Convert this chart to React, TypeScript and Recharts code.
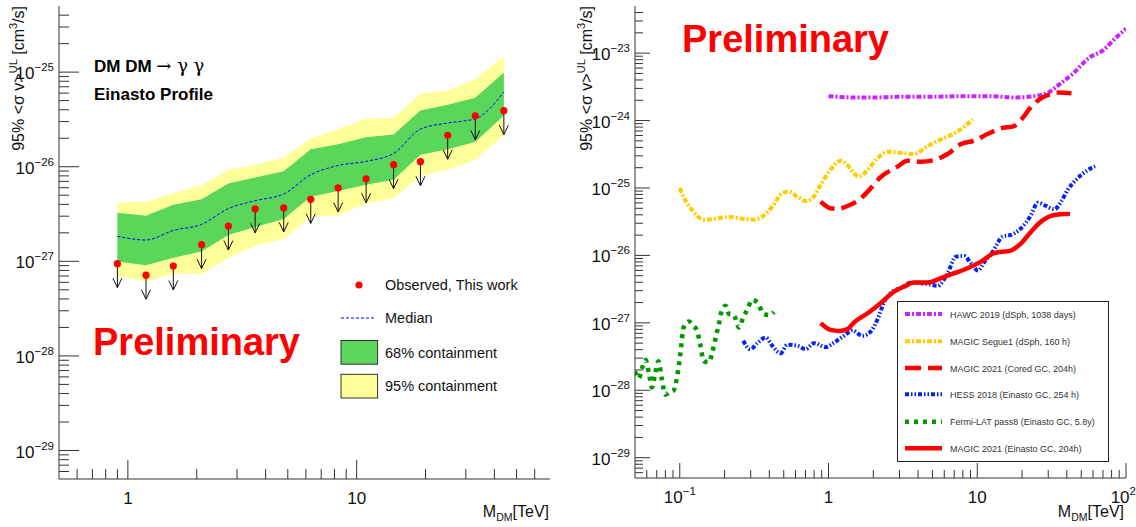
import React from 'react';
import { ComposedChart, Line, Area, Scatter, XAxis, YAxis } from 'recharts';

// ---------- Left panel data ----------
const leftMass = [0.9, 1.2, 1.58, 2.1, 2.75, 3.6, 4.8, 6.3, 8.3, 11, 14.5, 19, 25, 33, 44];
const leftObserved = [9.45e-28, 7.14e-28, 8.92e-28, 1.5e-27, 2.36e-27, 3.58e-27, 3.67e-27, 4.52e-27, 5.97e-27, 7.46e-27, 1.05e-26, 1.13e-26, 2.15e-26, 3.45e-26, 3.91e-26];
const leftMedian = [1.84e-27, 1.68e-27, 2.12e-27, 2.46e-27, 3.61e-27, 4.37e-27, 5.15e-27, 8.22e-27, 1.03e-26, 1.14e-26, 1.38e-26, 2.5e-26, 2.9e-26, 3.21e-26, 6.19e-26];
const left68Low = [9.93e-28, 9.07e-28, 1.09e-27, 1.27e-27, 1.9e-27, 2.3e-27, 2.81e-27, 4.82e-27, 5.55e-27, 6.43e-27, 7.28e-27, 1.34e-26, 1.53e-26, 1.83e-26, 3.48e-26];
const left68High = [3.27e-27, 3.04e-27, 3.96e-27, 4.52e-27, 6.64e-27, 7.7e-27, 8.94e-27, 1.53e-26, 1.73e-26, 2.05e-26, 2.19e-26, 3.94e-26, 4.52e-26, 5.37e-26, 9.89e-26];
const left95Low = [6.97e-28, 6.15e-28, 7.38e-28, 7.38e-28, 1.09e-27, 1.46e-27, 1.72e-27, 2.94e-27, 3.07e-27, 4.09e-27, 4.63e-27, 8.03e-27, 9.31e-27, 1.19e-26, 2.15e-26];
const left95High = [4.22e-27, 4.22e-27, 5.23e-27, 6.37e-27, 9.31e-27, 1.05e-26, 1.25e-26, 1.99e-26, 2.5e-26, 3.21e-26, 3.28e-26, 5.94e-26, 6.39e-26, 8.39e-26, 1.47e-25];

// ---------- Right panel data ----------
const hawcMass = [1, 1.5, 2, 3, 5, 8, 12, 18, 24, 30, 36, 45, 56, 70, 85, 100];
const hawcVal = [2.3e-24, 2.2e-24, 2.2e-24, 2.25e-24, 2.25e-24, 2.3e-24, 2.3e-24, 2.2e-24, 2.3e-24, 2.6e-24, 3.5e-24, 5.2e-24, 8.4e-24, 1.1e-23, 1.67e-23, 2.3e-23];

const segueMass = [0.1, 0.106, 0.121, 0.134, 0.149, 0.169, 0.214, 0.263, 0.315, 0.359, 0.419, 0.489, 0.542, 0.617, 0.702, 0.779, 0.886, 1.03, 1.21, 1.34, 1.45, 1.6, 1.83, 2.13, 2.49, 3.06, 3.76, 4.63, 5.7, 7.0, 8.17, 9.3];
const segueVal = [1.0e-25, 7.4e-26, 4.72e-26, 3.68e-26, 3.36e-26, 3.48e-26, 3.72e-26, 3.51e-26, 3.39e-26, 3.76e-26, 5.29e-26, 8.34e-26, 8.8e-26, 7.43e-26, 6.41e-26, 7.03e-26, 1.11e-25, 1.85e-25, 2.54e-25, 2.19e-25, 1.75e-25, 1.48e-25, 1.85e-25, 2.75e-25, 3.45e-25, 3.33e-25, 3.19e-25, 4.19e-25, 5.26e-25, 6.45e-25, 8.09e-25, 1.04e-24];

const coredMass = [0.886, 1.03, 1.15, 1.34, 1.65, 1.92, 2.2, 2.91, 3.4, 4.17, 5.13, 6.32, 7.78, 9.55, 11.7, 14.4, 17.7, 19.7, 23.0, 26.8, 31.3, 34.8, 43];
const coredVal = [6.27e-26, 5.0e-26, 4.89e-26, 5.41e-26, 7.03e-26, 9.9e-26, 1.4e-25, 2.07e-25, 2.54e-25, 2.45e-25, 2.6e-25, 3.19e-25, 4.49e-25, 5.02e-25, 6.31e-25, 7.65e-25, 8.3e-25, 1.02e-24, 1.6e-24, 2.13e-24, 2.47e-24, 2.6e-24, 2.55e-24];

const hessMass = [0.267, 0.299, 0.332, 0.378, 0.419, 0.477, 0.528, 0.617, 0.702, 0.8, 0.957, 1.09, 1.27, 1.45, 1.69, 1.92, 2.13, 2.36, 2.62, 3.06, 3.58, 4.63, 5.41, 6.32, 7.19, 8.17, 9.06, 10.1, 11.2, 12.7, 14.8, 16.8, 19.7, 23.0, 25.5, 29.0, 33.0, 36.6, 40.5, 47.3, 55.4, 62];
const hessVal = [5.41e-28, 4.07e-28, 5.0e-28, 6.05e-28, 4.56e-28, 3.55e-28, 4.72e-28, 4.56e-28, 4.07e-28, 5.0e-28, 4.37e-28, 5.1e-28, 6.41e-28, 7.69e-28, 6.41e-28, 7.43e-28, 1.11e-27, 2.0e-27, 2.8e-27, 3.27e-27, 3.95e-27, 3.78e-27, 3.54e-27, 5.45e-27, 9.6e-27, 9.8e-27, 7.66e-27, 5.96e-27, 8.09e-27, 1.14e-26, 1.9e-26, 2.01e-26, 2.53e-26, 3.98e-26, 6.05e-26, 5.41e-26, 4.83e-26, 6.27e-26, 9.33e-26, 1.39e-25, 1.85e-25, 2.1e-25];

const fermiMass = [0.05, 0.053, 0.056, 0.059, 0.062, 0.065, 0.068, 0.072, 0.076, 0.08, 0.086, 0.091, 0.096, 0.101, 0.106, 0.115, 0.124, 0.131, 0.138, 0.145, 0.157, 0.165, 0.174, 0.183, 0.193, 0.204, 0.214, 0.231, 0.25, 0.267, 0.285, 0.308, 0.332, 0.368, 0.4, 0.43];
const fermiVal = [1.9e-28, 1.5e-28, 2.2e-28, 2.8e-28, 1.8e-28, 1.1e-28, 1.7e-28, 2.7e-28, 1.4e-28, 8.6e-29, 9.5e-29, 1.0e-28, 1.6e-28, 3.5e-28, 8.5e-28, 1.05e-27, 9.0e-28, 7.5e-28, 4.5e-28, 2.7e-28, 2.6e-28, 3.6e-28, 5.9e-28, 9.5e-28, 1.6e-27, 1.8e-27, 1.35e-27, 1.3e-27, 8.5e-28, 1.2e-27, 1.6e-27, 2.2e-27, 2.0e-27, 1.35e-27, 1.3e-27, 1.45e-27];

const einastoMass = [0.886, 1.03, 1.18, 1.34, 1.48, 1.83, 2.24, 2.76, 3.22, 3.76, 4.63, 5.7, 7.0, 8.6, 10.6, 13.0, 16.8, 19.7, 23.0, 26.8, 33.0, 39.4, 42];
const einastoVal = [9.9e-28, 7.87e-28, 7.6e-28, 8.05e-28, 1.01e-27, 1.39e-27, 1.96e-27, 2.91e-27, 3.45e-27, 3.95e-27, 3.95e-27, 4.59e-27, 5.45e-27, 6.45e-27, 8.09e-27, 1.08e-26, 1.18e-26, 1.51e-26, 2.25e-26, 3.17e-26, 3.98e-26, 4.12e-26, 4.1e-26];

const rightLegendLabels = [
  'HAWC 2019 (dSph, 1038 days)',
  'MAGIC Segue1 (dSph, 160 h)',
  'MAGIC 2021 (Cored GC, 204h)',
  'HESS 2018 (Einasto GC, 254 h)',
  'Fermi-LAT pass8 (Einasto GC, 5.8y)',
  'MAGIC 2021 (Einasto GC, 204h)',
];
const leftLegendLabels = ['Observed, This work', 'Median', '68% containment', '95% containment'];

// ---------- helpers ----------
const FONT = "'Liberation Sans', Arial, Helvetica, sans-serif";

function logTicks(minExp: number, maxExp: number, lo: number, hi: number): number[] {
  const out: number[] = [];
  for (let e = minExp; e <= maxExp; e++) {
    for (let k = 1; k <= 9; k++) {
      const v = parseFloat((k * Math.pow(10, e)).toPrecision(6));
      if (v >= lo * 0.9999 && v <= hi * 1.0001) out.push(v);
    }
  }
  return out;
}
const isDecade = (v: number) => {
  const l = Math.log10(v);
  return Math.abs(l - Math.round(l)) < 1e-6;
};
const expText = (e: number) => (e < 0 ? '\u2212' + Math.abs(e) : String(e));

const leftXTicks = logTicks(-1, 1, 0.55, 65);
const leftYTicks = logTicks(-30, -25, 5.5e-30, 4.5e-25);
const rightXTicks = logTicks(-2, 2, 0.055, 100);
const rightYTicks = logTicks(-30, -23, 5.5e-30, 4.5e-23);

const leftData = leftMass.map((m, i) => ({
  m,
  obs: leftObserved[i],
  med: leftMedian[i],
  lo68: left68Low[i],
  hi68: left68High[i],
  lo95: left95Low[i],
  hi95: left95High[i],
}));
const pairs = (ms: number[], vs: number[]) => ms.map((m, i) => ({ m, y: vs[i] }));

function makeYTick(side: 'left' | 'right', majorLen: number, minorLen: number, labels: boolean, size: number) {
  return (props: any) => {
    const { x, y, payload } = props;
    const v = payload.value;
    const major = isDecade(v);
    const len = major ? majorLen : minorLen;
    const dir = side === 'left' ? 1 : -1;
    const e = Math.round(Math.log10(v));
    return (
      <g>
        <line x1={x} x2={x + dir * len} y1={y} y2={y} stroke="#333" strokeWidth={1} />
        {labels && major && (
          <text x={x - 5} y={y + 7} textAnchor="end" fontSize={size} fill="#111" fontFamily={FONT}>
            10<tspan dy={-8} fontSize={size * 0.68}>{expText(e)}</tspan>
          </text>
        )}
      </g>
    );
  };
}

function makeXTick(side: 'bottom' | 'top', majorLen: number, minorLen: number, labels: boolean, size: number, sciEnds: boolean, rightEdge?: number) {
  return (props: any) => {
    const { x, y, payload } = props;
    const v = payload.value;
    const major = isDecade(v);
    const len = major ? majorLen : minorLen;
    const dir = side === 'bottom' ? -1 : 1;
    const e = Math.round(Math.log10(v));
    let label: React.ReactNode = null;
    if (labels && major) {
      const useSci = sciEnds && (e < 0 || e > 1);
      const atEdge = rightEdge != null && Math.abs(v - rightEdge) < 1e-9;
      const lx = atEdge ? x + 10 : x;
      const anchor = atEdge ? 'end' : 'middle';
      label = useSci ? (
        <text x={lx} y={y + 25} textAnchor={anchor} fontSize={size} fill="#111" fontFamily={FONT}>
          10<tspan dy={-8} fontSize={size * 0.68}>{expText(e)}</tspan>
        </text>
      ) : (
        <text x={lx} y={y + 25} textAnchor={anchor} fontSize={size} fill="#111" fontFamily={FONT}>
          {String(Math.round(v))}
        </text>
      );
    }
    return (
      <g>
        <line x1={x} x2={x} y1={y} y2={y + dir * len} stroke="#333" strokeWidth={1} />
        {label}
      </g>
    );
  };
}

const ObsShape = (p: any) => {
  const { cx, cy } = p;
  if (cx == null || cy == null) return <g />;
  return (
    <g>
      <line x1={cx} x2={cx} y1={cy} y2={cy + 24} stroke="#111" strokeWidth={1} />
      <polyline points={`${cx - 4.5},${cy + 14.5} ${cx},${cy + 24} ${cx + 4.5},${cy + 14.5}`} fill="none" stroke="#111" strokeWidth={1} />
      <circle cx={cx} cy={cy} r={3.6} fill="#ff0000" />
    </g>
  );
};

const GREEN = '#5ad65a';
const YELLOW = '#ffff99';

const styles = [
  { color: '#cc22ff', dash: '5 2 2 2', width: 4 },
  { color: '#ffcc00', dash: '5 2 2 2', width: 4 },
  { color: '#ff0000', dash: '16 7', width: 4.5 },
  { color: '#0022ff', dash: '4 2 1.5 2 1.5 2', width: 4 },
  { color: '#009900', dash: '4 5', width: 4.5 },
  { color: '#ff0000', dash: undefined as string | undefined, width: 4.5 },
];

const YTitle = ({ x }: { x: number }) => (
  <text transform={`translate(${x},6) rotate(-90)`} textAnchor="end" fontSize={16} fill="#111" fontFamily={FONT}>
    95% &lt;σ v&gt;<tspan dy={-7} fontSize={11}>UL</tspan>
    <tspan dy={7}> [cm</tspan>
    <tspan dy={-7} fontSize={11}>3</tspan>
    <tspan dy={7}>/s]</tspan>
  </text>
);
const XTitle = ({ x }: { x: number }) => (
  <text x={x} y={517} textAnchor="end" fontSize={16} fill="#111" fontFamily={FONT}>
    M<tspan dy={4} fontSize={10.5}>DM</tspan>
    <tspan dy={-4}>[TeV]</tspan>
  </text>
);

export default function App() {
  return (
    <div style={{ position: 'absolute', left: 0, top: 0, width: 1136, height: 527, background: '#fff', fontFamily: FONT }}>
      {/* Left panel */}
      <div style={{ position: 'absolute', left: 0, top: 0 }}>
        <ComposedChart width={566} height={527} data={leftData} margin={{ top: 6, right: 16, bottom: 0, left: 0 }}>
          <XAxis
            dataKey="m" type="number" scale="log" domain={[0.5, 70]} allowDataOverflow
            ticks={leftXTicks} interval={0} height={48} tickSize={0} tickMargin={0} tickLine={false}
            axisLine={{ stroke: '#333' }} tick={makeXTick('bottom', 19, 10, true, 17, false)}
          />
          <XAxis xAxisId="top" orientation="top" dataKey="m" type="number" scale="log" domain={[0.5, 70]} allowDataOverflow
            height={0} tick={false} tickLine={false} axisLine={{ stroke: '#333' }} />
          <YAxis
            type="number" scale="log" domain={[5e-30, 5e-25]} allowDataOverflow
            ticks={leftYTicks} interval={0} width={59} tickSize={0} tickMargin={0} tickLine={false}
            axisLine={{ stroke: '#333' }} tick={makeYTick('left', 20, 10, true, 17)}
          />
          <YAxis yAxisId="right" orientation="right" type="number" scale="log" domain={[5e-30, 5e-25]} allowDataOverflow
            width={0} tick={false} tickLine={false} axisLine={{ stroke: '#333' }} />
          <Area type="linear" dataKey={(d: any) => [d.lo95, d.hi95]} fill={YELLOW} fillOpacity={1} stroke="none" isAnimationActive={false} />
          <Area type="linear" dataKey={(d: any) => [d.lo68, d.hi68]} fill={GREEN} fillOpacity={1} stroke="none" isAnimationActive={false} />
          <Line type="monotone" dataKey="med" stroke="#0000ff" strokeWidth={1} strokeDasharray="3 2" dot={false} isAnimationActive={false} />
          <Scatter dataKey="obs" shape={ObsShape} isAnimationActive={false} />
        </ComposedChart>
      </div>

      {/* Right panel */}
      <div style={{ position: 'absolute', left: 566, top: 0 }}>
        <ComposedChart width={570} height={527} margin={{ top: 6, right: 10, bottom: 0, left: 0 }}>
          <XAxis
            dataKey="m" type="number" scale="log" domain={[0.05, 100]} allowDataOverflow
            ticks={rightXTicks} interval={0} height={49} tickSize={0} tickMargin={0} tickLine={false}
            axisLine={{ stroke: '#333' }} tick={makeXTick('bottom', 15, 8, true, 17, true, 100)}
          />
          <XAxis xAxisId="top" orientation="top" dataKey="m" type="number" scale="log" domain={[0.05, 100]} allowDataOverflow
            ticks={rightXTicks} interval={0} height={0} tickSize={0} tickMargin={0} tickLine={false}
            axisLine={{ stroke: '#333' }} tick={makeXTick('top', 15, 8, false, 17, true)} />
          <YAxis
            type="number" scale="log" domain={[5e-30, 5e-23]} allowDataOverflow
            ticks={rightYTicks} interval={0} width={69} tickSize={0} tickMargin={0} tickLine={false}
            axisLine={{ stroke: '#333' }} tick={makeYTick('left', 15, 8, true, 17)}
          />
          <YAxis yAxisId="right" orientation="right" type="number" scale="log" domain={[5e-30, 5e-23]} allowDataOverflow
            ticks={rightYTicks} interval={0} width={0} tickSize={0} tickMargin={0} tickLine={false}
            axisLine={{ stroke: '#333' }} tick={makeYTick('right', 15, 8, false, 17)} />
          <Line data={pairs(hawcMass, hawcVal)} dataKey="y" type="monotone" stroke={styles[0].color} strokeWidth={styles[0].width} strokeDasharray={styles[0].dash} dot={false} isAnimationActive={false} />
          <Line data={pairs(segueMass, segueVal)} dataKey="y" type="monotone" stroke={styles[1].color} strokeWidth={styles[1].width} strokeDasharray={styles[1].dash} dot={false} isAnimationActive={false} />
          <Line data={pairs(coredMass, coredVal)} dataKey="y" type="monotone" stroke={styles[2].color} strokeWidth={styles[2].width} strokeDasharray={styles[2].dash} dot={false} isAnimationActive={false} />
          <Line data={pairs(hessMass, hessVal)} dataKey="y" type="monotone" stroke={styles[3].color} strokeWidth={styles[3].width} strokeDasharray={styles[3].dash} dot={false} isAnimationActive={false} />
          <Line data={pairs(fermiMass, fermiVal)} dataKey="y" type="monotone" stroke={styles[4].color} strokeWidth={styles[4].width} strokeDasharray={styles[4].dash} dot={false} isAnimationActive={false} />
          <Line data={pairs(einastoMass, einastoVal)} dataKey="y" type="monotone" stroke={styles[5].color} strokeWidth={styles[5].width} dot={false} isAnimationActive={false} />
        </ComposedChart>
      </div>

      {/* Annotations and legends */}
      <svg width={1136} height={527} style={{ position: 'absolute', left: 0, top: 0, pointerEvents: 'none' }}>
        <YTitle x={24} />
        <YTitle x={592} />
        <XTitle x={549} />
        <XTitle x={1124} />

        <text x={94} y={72} fontSize={17} fontWeight="bold" fill="#000" fontFamily={FONT}>
          DM DM <tspan fontWeight="normal" fontFamily="'DejaVu Serif', serif" fontSize={18}>{'\u2192 \u03b3 \u03b3'}</tspan>
        </text>
        <text x={94} y={100} fontSize={17} fontWeight="bold" fill="#000" fontFamily={FONT}>Einasto Profile</text>
        <text x={93} y={355} fontSize={38} fontWeight="bold" fill="#ff0000" fontFamily={FONT}>Preliminary</text>
        <text x={682} y={52} fontSize={38} fontWeight="bold" fill="#ff0000" fontFamily={FONT}>Preliminary</text>

        {/* left legend */}
        <circle cx={359} cy={285} r={3.6} fill="#ff0000" />
        <text x={385} y={290} fontSize={14.5} fill="#111" fontFamily={FONT}>{leftLegendLabels[0]}</text>
        <line x1={341} x2={376} y1={318} y2={318} stroke="#0000ff" strokeWidth={1} strokeDasharray="3 2" />
        <text x={385} y={323} fontSize={14.5} fill="#111" fontFamily={FONT}>{leftLegendLabels[1]}</text>
        <rect x={341} y={340.5} width={36.6} height={23.7} fill={GREEN} stroke="#333" strokeWidth={1} />
        <text x={385} y={357.5} fontSize={14.5} fill="#111" fontFamily={FONT}>{leftLegendLabels[2]}</text>
        <rect x={341} y={374.3} width={36.6} height={23.7} fill={YELLOW} stroke="#333" strokeWidth={1} />
        <text x={385} y={391} fontSize={14.5} fill="#111" fontFamily={FONT}>{leftLegendLabels[3]}</text>

        {/* right legend */}
        <rect x={897.5} y={301.5} width={211} height={160} fill="#fff" stroke="#222" strokeWidth={1} />
        {rightLegendLabels.map((lab, i) => {
          const yy = [314, 341.3, 368, 394.3, 421.7, 448.3][i];
          const s = styles[i];
          return (
            <g key={lab}>
              <line x1={905} x2={942} y1={yy} y2={yy} stroke={s.color} strokeWidth={s.width} strokeDasharray={s.dash} />
              <text x={950} y={yy + 3.5} fontSize={9} fill="#333" fontFamily={FONT}>{lab}</text>
            </g>
          );
        })}
      </svg>
    </div>
  );
}
